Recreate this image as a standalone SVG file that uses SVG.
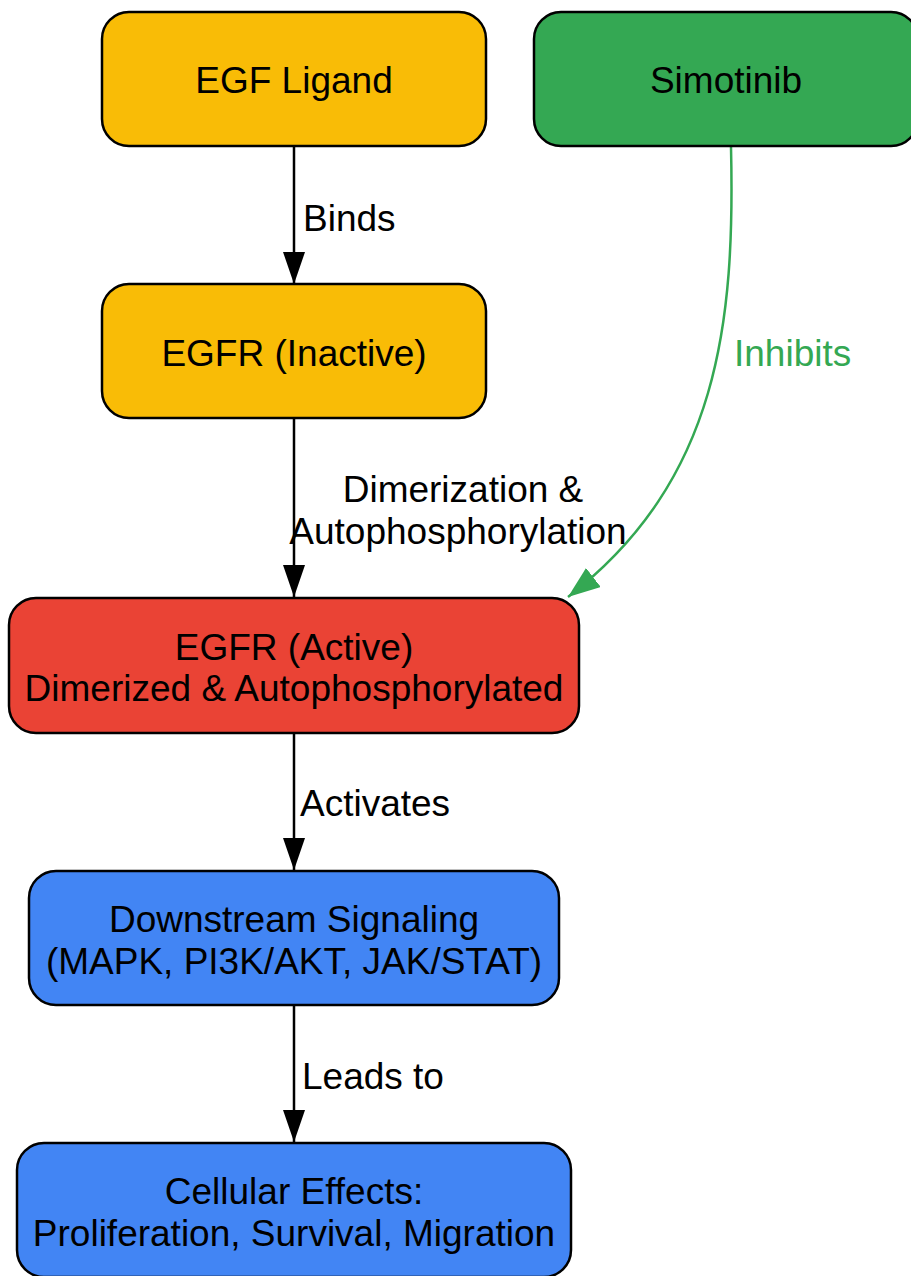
<svg xmlns="http://www.w3.org/2000/svg" width="911" height="1276" viewBox="0 0 911 1276">
<style>
.node rect{stroke:#000;stroke-width:2.5}
.yellow{fill:#F9BC06}
.green{fill:#34A853}
.red{fill:#EA4335}
.blue{fill:#4285F4}
text{font-family:"Liberation Sans",Arial,sans-serif;font-size:37px;fill:#000;text-anchor:middle}
.lbl{text-anchor:start}
.glbl{fill:#34A853;text-anchor:start}
.edge{fill:none;stroke:#000;stroke-width:2.5}
.gedge{fill:none;stroke:#34A853;stroke-width:2.5}
</style>
<defs>
<marker id="ah" markerUnits="userSpaceOnUse" markerWidth="32" markerHeight="22" refX="32" refY="11" orient="auto" viewBox="0 0 32 22">
<path d="M0,0 L32,11 L0,22 z" fill="#000"/>
</marker>
<marker id="gah" markerUnits="userSpaceOnUse" markerWidth="32" markerHeight="24" refX="32" refY="12" orient="auto" viewBox="0 0 32 24">
<path d="M0,0 L32,12 L0,24 z" fill="#34A853"/>
</marker>
</defs>
<g id="connectors">
<line class="edge" x1="294" y1="147" x2="294" y2="284" marker-end="url(#ah)"/>
<line class="edge" x1="294" y1="419" x2="294" y2="597" marker-end="url(#ah)"/>
<line class="edge" x1="294" y1="734" x2="294" y2="870" marker-end="url(#ah)"/>
<line class="edge" x1="294" y1="1006" x2="294" y2="1142" marker-end="url(#ah)"/>
<path class="gedge" d="M731,147 C735,320 720,480 568,597" marker-end="url(#gah)"/>
<text class="lbl" x="303" y="231">Binds</text>
<text x="463" y="502">Dimerization &amp;</text>
<text x="458" y="544">Autophosphorylation</text>
<text class="glbl" x="734" y="366">Inhibits</text>
<text class="lbl" x="300" y="816">Activates</text>
<text class="lbl" x="302" y="1089">Leads to</text>
</g>
<g id="egf" class="node">
<rect class="yellow" x="102" y="12" width="384" height="134" rx="27"/>
<text x="294" y="93">EGF Ligand</text>
</g>
<g id="simotinib" class="node">
<rect class="green" x="534" y="12" width="384" height="134" rx="27"/>
<text x="726" y="93">Simotinib</text>
</g>
<g id="egfr_inactive" class="node">
<rect class="yellow" x="102" y="284" width="384" height="134" rx="27"/>
<text x="294" y="366">EGFR (Inactive)</text>
</g>
<g id="egfr_active" class="node">
<rect class="red" x="9" y="598" width="570" height="135" rx="27"/>
<text x="294" y="660">EGFR (Active)</text>
<text x="294" y="701">Dimerized &amp; Autophosphorylated</text>
</g>
<g id="downstream" class="node">
<rect class="blue" x="29" y="871" width="530" height="134" rx="27"/>
<text x="294" y="932">Downstream Signaling</text>
<text x="294" y="974">(MAPK, PI3K/AKT, JAK/STAT)</text>
</g>
<g id="cellular" class="node">
<rect class="blue" x="17" y="1143" width="554" height="134" rx="27"/>
<text x="294" y="1204">Cellular Effects:</text>
<text x="294" y="1246">Proliferation, Survival, Migration</text>
</g>
</svg>
